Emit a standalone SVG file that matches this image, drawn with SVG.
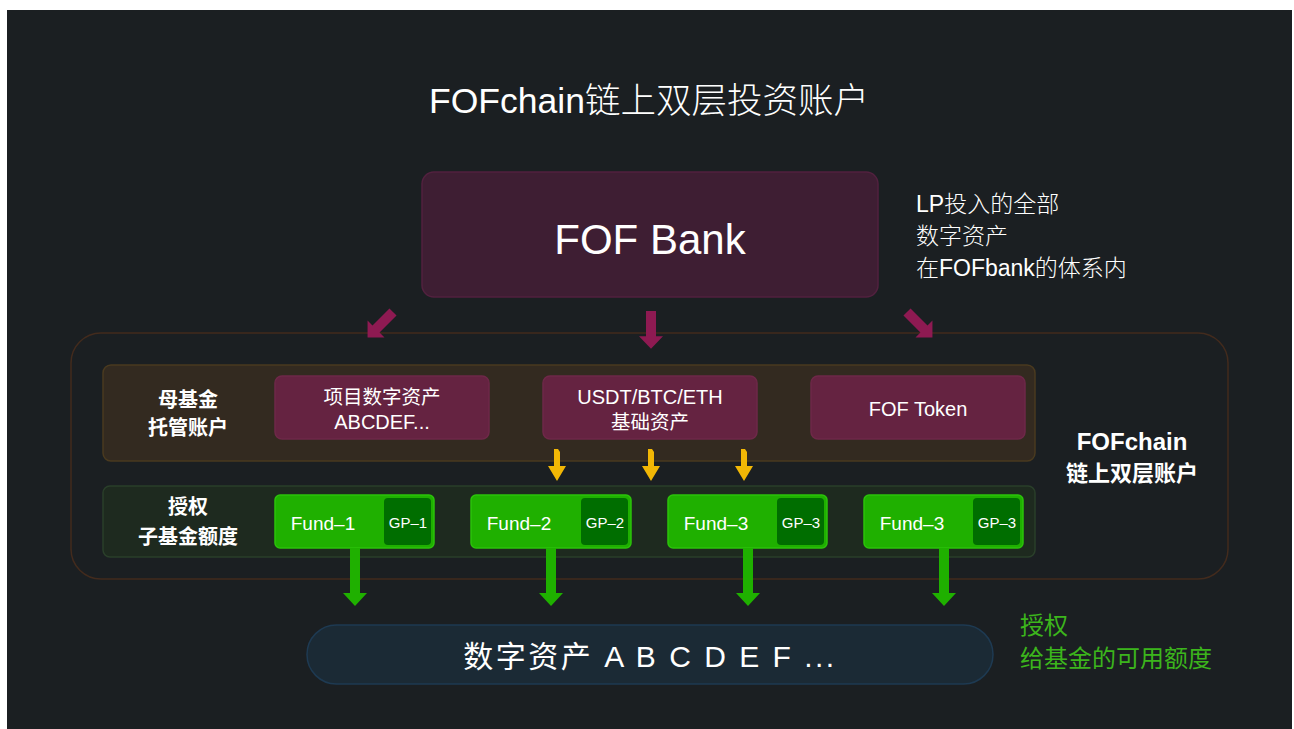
<svg xmlns="http://www.w3.org/2000/svg" width="1294" height="729" viewBox="0 0 1294 729">
<defs>
<style>
text{font-family:"Liberation Sans","Noto Sans CJK SC",sans-serif;fill:#ffffff;}
.mid{text-anchor:middle;}
.asset{fill:#652341;stroke:#6e2848;stroke-width:1.5;}
.fund{fill:#1fb000;stroke:#2bc20a;stroke-width:1.5;}
.gp{fill:#006e00;}
.mag{fill:#8e1a52;}
.yel{fill:#f2b705;}
.grn{fill:#1fb000;}
</style>
<polygon id="mag-arrow" points="-5,0 5,0 5,24 12,24 0,36 -12,24 -5,24"/>
</defs>
<rect x="0" y="0" width="1294" height="729" fill="#ffffff"/>
<rect x="7" y="10" width="1285" height="719" fill="#1b1f22"/>
<text class="mid" x="649" y="113" font-size="35.5" font-weight="300">FOFchain链上双层投资账户</text>

<g id="fof-bank">
<rect x="422" y="172" width="456" height="125" rx="12" fill="#3e1e33" stroke="#52213f" stroke-width="1.5"/>
<text class="mid" x="650" y="254" font-size="42">FOF Bank</text>
</g>
<g id="lp-note">
<text x="916" y="212" font-size="23" font-weight="300">LP投入的全部</text>
<text x="916" y="244" font-size="23" font-weight="300">数字资产</text>
<text x="916" y="276" font-size="23" font-weight="300">在FOFbank的体系内</text>
</g>

<g id="container">
<rect x="71" y="333" width="1157" height="246" rx="30" fill="none" stroke="#432b1d" stroke-width="1.5"/>
<text class="mid" x="1132" y="450" font-size="24" font-weight="bold">FOFchain</text>
<text class="mid" x="1132" y="481" font-size="22" font-weight="bold">链上双层账户</text>
</g>

<g id="parent-row">
<rect x="103" y="365" width="932" height="96" rx="8" fill="#332a20" stroke="#4a3a1f" stroke-width="1.5"/>
<text class="mid" x="188" y="407" font-size="20" font-weight="bold">母基金</text>
<text class="mid" x="188" y="435" font-size="20" font-weight="bold">托管账户</text>
</g>
<g id="asset-project">
<rect class="asset" x="275" y="376" width="214" height="63" rx="7"/>
<text class="mid" x="382" y="404" font-size="19.5">项目数字资产</text>
<text class="mid" x="382" y="429" font-size="20">ABCDEF...</text>
</g>
<g id="asset-base">
<rect class="asset" x="543" y="376" width="214" height="63" rx="7"/>
<text class="mid" x="650" y="404" font-size="20">USDT/BTC/ETH</text>
<text class="mid" x="650" y="429" font-size="19.5">基础资产</text>
</g>
<g id="asset-token">
<rect class="asset" x="811" y="376" width="214" height="63" rx="7"/>
<text class="mid" x="918" y="416" font-size="20">FOF Token</text>
</g>

<g id="fund-row">
<rect x="103" y="486" width="932" height="71" rx="7" fill="#1e2a1f" stroke="#2a3f2a" stroke-width="1.5"/>
<text class="mid" x="188" y="514" font-size="20" font-weight="bold">授权</text>
<text class="mid" x="188" y="544" font-size="20" font-weight="bold">子基金额度</text>
</g>
<g id="fund-1">
<rect class="fund" x="275" y="495" width="159" height="53" rx="5"/>
<rect class="gp" x="384" y="498" width="47" height="47" rx="4"/>
<text class="mid" x="323" y="530" font-size="19">Fund–1</text>
<text class="mid" x="408" y="528" font-size="15">GP–1</text>
</g>
<g id="fund-2">
<rect class="fund" x="471" y="495" width="160" height="53" rx="5"/>
<rect class="gp" x="581" y="498" width="47" height="47" rx="4"/>
<text class="mid" x="519" y="530" font-size="19">Fund–2</text>
<text class="mid" x="605" y="528" font-size="15">GP–2</text>
</g>
<g id="fund-3a">
<rect class="fund" x="668" y="495" width="159" height="53" rx="5"/>
<rect class="gp" x="777" y="498" width="47" height="47" rx="4"/>
<text class="mid" x="716" y="530" font-size="19">Fund–3</text>
<text class="mid" x="801" y="528" font-size="15">GP–3</text>
</g>
<g id="fund-3b">
<rect class="fund" x="864" y="495" width="159" height="53" rx="5"/>
<rect class="gp" x="973" y="498" width="47" height="47" rx="4"/>
<text class="mid" x="912" y="530" font-size="19">Fund–3</text>
<text class="mid" x="997" y="528" font-size="15">GP–3</text>
</g>

<g id="digital-assets">
<rect x="307" y="625" width="686" height="59" rx="29.5" fill="#1b2a35" stroke="#1e3a52" stroke-width="1.5"/>
<text class="mid" x="650" y="667" font-size="30" letter-spacing="2.5">数字资产  A B C D E F ...</text>
</g>
<g id="auth-note">
<text x="1020" y="634" font-size="24" style="fill:#3cb51c">授权</text>
<text x="1020" y="667" font-size="24" style="fill:#3cb51c">给基金的可用额度</text>
</g>

<g id="connectors">
<use href="#mag-arrow" class="mag" transform="translate(393,312) rotate(45)"/>
<use href="#mag-arrow" class="mag" transform="translate(651,311) scale(1,1.05)"/>
<use href="#mag-arrow" class="mag" transform="translate(907,312) rotate(-45)"/>
<polygon class="yel" points="554,449 558,449 560,452 560,466 566,466 557,481 548,466 554,466 554,452"/>
<polygon class="yel" points="648,449 652,449 654,452 654,466 660,466 651,481 642,466 648,466 648,452"/>
<polygon class="yel" points="741,449 745,449 747,452 747,466 753,466 744,481 735,466 741,466 741,452"/>
<polygon class="grn" points="350,548 360,548 360,593 367,593 355,606 343,593 350,593"/>
<polygon class="grn" points="546,548 556,548 556,593 563,593 551,606 539,593 546,593"/>
<polygon class="grn" points="743,548 753,548 753,593 760,593 748,606 736,593 743,593"/>
<polygon class="grn" points="939,548 949,548 949,593 956,593 944,606 932,593 939,593"/>
</g>
</svg>
